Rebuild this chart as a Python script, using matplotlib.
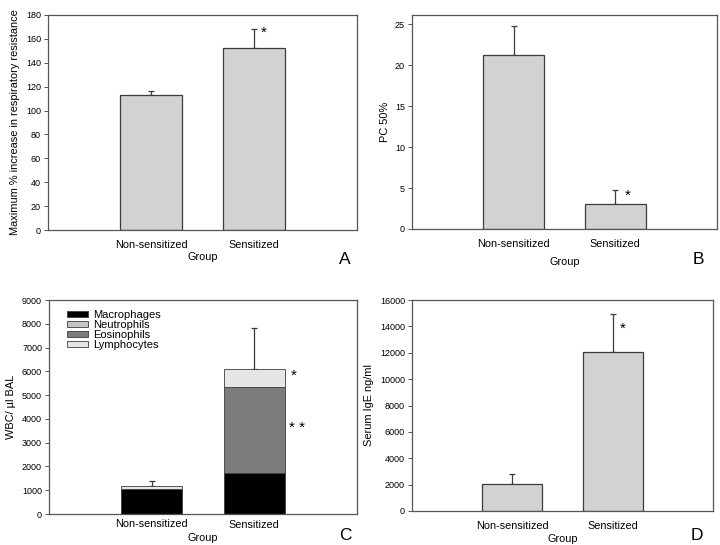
import matplotlib
matplotlib.use("Agg")

import matplotlib.pyplot as plt
import numpy as np

plt.rcParams["font.family"] = ["Liberation Sans", "DejaVu Sans"]

groups = ["Non-sensitized", "Sensitized"]

# panel A: maximum % increase in respiratory resistance
resist_mean = [113, 152]
resist_err = [3, 16]

# panel B: PC 50%
pc50_mean = [21.2, 3.0]
pc50_err = [3.6, 1.8]

# panel C: stacked WBC counts
cell_types = ["Macrophages", "Neutrophils", "Eosinophils", "Lymphocytes"]
macrophages = [1050, 1735]
neutrophils = [0, 0]
eosinophils = [0, 3590]
lymphocytes = [127, 770]
wbc_err = [225, 1740]

# panel D: serum IgE
ige_mean = [2060, 12040]
ige_err = [740, 2870]

BAR = "#d2d2d2"
EDGE = "#3c3c3c"
cell_colors = ["#000000", "#c4c4c4", "#7c7c7c", "#e6e6e6"]

x = np.arange(len(groups))
fig = plt.figure(figsize=(7.2, 5.45), dpi=100)


def make_ax(l, t, r, b):
    # pixel box -> figure fraction
    return fig.add_axes([l / 720, 1 - b / 545, (r - l) / 720, (b - t) / 545])


def style(ax, ylim, ticks, ylabel):
    ax.set_xlim(-1, 2)
    ax.set_ylim(*ylim)
    ax.set_yticks(ticks)
    ax.set_xticks(x)
    ax.set_xticklabels(groups, fontsize=7.8)
    ax.tick_params(axis="x", length=0, pad=7)
    ax.tick_params(axis="y", direction="out", length=3, width=0.7,
                   color="#555555", labelsize=6.5, pad=2)
    for s in ax.spines.values():
        s.set_color("#555555")
        s.set_linewidth(0.9)
    ax.set_ylabel(ylabel, fontsize=7.9, labelpad=4)
    ax.set_xlabel("Group", fontsize=7.8, labelpad=2)


def err(ax, tops, e):
    ax.errorbar(x, tops, yerr=[np.zeros(len(e)), e], fmt="none",
                ecolor="#3c3c3c", elinewidth=0.9, capsize=2.2, capthick=0.9,
                zorder=1)


# A
axA = make_ax(48, 15, 357, 230)
axA.bar(x, resist_mean, width=0.6, color=BAR, edgecolor=EDGE, linewidth=0.9, zorder=2)
err(axA, resist_mean, resist_err)
style(axA, (0, 180), range(0, 181, 20), "Maximum % increase in respiratory resistance")
axA.text(1.09, 165, "*", fontsize=11, ha="center", va="center")

# B
axB = make_ax(412, 15, 717, 229)
axB.bar(x, pc50_mean, width=0.6, color=BAR, edgecolor=EDGE, linewidth=0.9, zorder=2)
err(axB, pc50_mean, pc50_err)
style(axB, (0, 26.1), range(0, 26, 5), "PC 50%")
axB.xaxis.labelpad = 6
axB.text(1.12, 4.0, "*", fontsize=11, ha="center", va="center")

# C
axC = make_ax(49, 300, 357, 514)
bottom = np.zeros(2)
for name, vals, col in zip(cell_types, [macrophages, neutrophils, eosinophils, lymphocytes], cell_colors):
    axC.bar(x, vals, width=0.6, bottom=bottom, color=col, edgecolor=EDGE,
            linewidth=0.6, label=name, zorder=2)
    bottom = bottom + np.array(vals)
err(axC, bottom, wbc_err)
style(axC, (0, 9000), range(0, 9001, 1000), "WBC/ \u00b5l BAL")
axC.set_xticklabels([])
axC.tick_params(axis="x", pad=4)
axC.text(0, -420, groups[0], fontsize=7.8, ha="center", va="center")
axC.text(1, -470, groups[1], fontsize=7.8, ha="center", va="center")
axC.xaxis.labelpad = 10
axC.text(1.38, 5800, "*", fontsize=11, ha="center", va="center")
axC.text(1.42, 3620, "* *", fontsize=11, ha="center", va="center")
axC.legend(loc="upper left", frameon=False, fontsize=8, handlelength=1.9,
           handleheight=0.55, labelspacing=0.0, handletextpad=0.4,
           borderaxespad=0.0, bbox_to_anchor=(0.045, 0.975))

# D
axD = make_ax(412, 300, 713, 511)
axD.bar(x, ige_mean, width=0.6, color=BAR, edgecolor=EDGE, linewidth=0.9, zorder=2)
err(axD, ige_mean, ige_err)
style(axD, (0, 16000), range(0, 16001, 2000), "Serum IgE ng/ml")
axD.text(1.1, 13800, "*", fontsize=11, ha="center", va="center")

for lab, px, py in [("A", 345, 260), ("B", 698, 260), ("C", 345, 535), ("D", 697, 535)]:
    fig.text(px / 720, 1 - py / 545, lab, fontsize=12.5, ha="center", va="center")

fig.savefig("out.png", dpi=100)
